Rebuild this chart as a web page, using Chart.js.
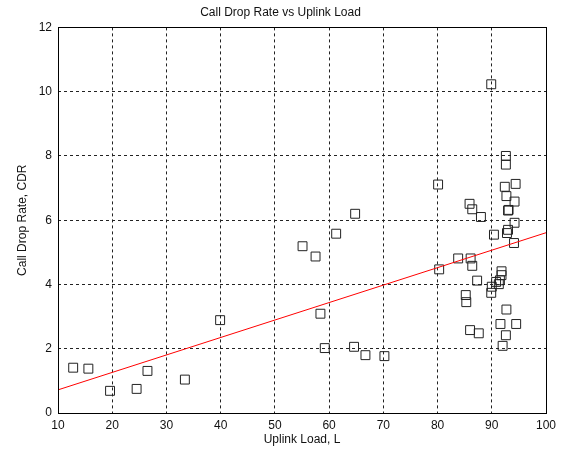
<!DOCTYPE html>
<html>
<head>
<meta charset="utf-8">
<script src="https://cdn.jsdelivr.net/npm/chart.js@4.4.1/dist/chart.umd.min.js"></script>
<style>
  html, body { margin: 0; padding: 0; background: #fff; }
  #wrap { width: 562px; height: 454px; }
</style>
</head>
<body>
<div id="wrap"><canvas id="cdrChart" width="562" height="454"></canvas></div>
<script>
// uplink load (x) and call drop rate (y) for each cell
const uplinkLoad = [
  12.8, 15.6, 19.6, 24.5, 26.5, 33.4, 39.9, 55.1, 57.5, 58.4,
  59.2, 61.3, 64.6, 64.8, 66.7, 70.2, 80.1, 80.3, 83.8, 85.2,
  85.3, 85.9, 86.0, 86.1, 86.4, 86.4, 87.3, 87.6, 88.0, 89.9,
  89.9, 90.0, 90.4, 90.8, 91.3, 91.5, 91.6, 91.8, 91.8, 92.0,
  92.4, 92.6, 92.6, 92.6, 92.7, 92.7, 92.8, 93.0, 93.1, 93.0,
  94.1, 94.2, 94.2, 94.4, 94.5
];
const callDropRate = [
  1.41, 1.38, 0.69, 0.75, 1.31, 1.04, 2.89, 5.19, 4.87, 3.09,
  2.02, 5.58, 2.06, 6.20, 1.80, 1.77, 7.11, 4.47, 4.81, 3.67,
  3.45, 6.51, 2.58, 4.81, 6.34, 4.58, 4.12, 2.48, 6.10, 10.23,
  3.74, 3.93, 5.55, 4.08, 4.01, 4.13, 2.77, 4.29, 4.41, 2.09,
  7.04, 8.00, 7.73, 2.42, 6.75, 3.22, 5.60, 6.30, 6.32, 5.70,
  5.29, 6.58, 5.92, 7.13, 2.77
];
// linear fit end points
const fitX = [10, 100];
const fitY = [0.72, 5.61];

const xTicks = [10, 20, 30, 40, 50, 60, 70, 80, 90, 100];
const yTicks = [0, 2, 4, 6, 8, 10, 12];

const fontFamily = '"Liberation Sans", Arial, Helvetica, sans-serif';

// solid box around the plot area, like the matlab axes
const framePlugin = {
  id: 'frame',
  afterDatasetsDraw(chart) {
    const { ctx, chartArea } = chart;
    ctx.save();
    ctx.strokeStyle = '#000';
    ctx.lineWidth = 1;
    ctx.setLineDash([]);
    ctx.strokeRect(Math.round(chartArea.left) + 0.5, Math.round(chartArea.top) + 0.5,
      Math.round(chartArea.right - chartArea.left), Math.round(chartArea.bottom - chartArea.top));
    ctx.restore();
  }
};

const points = uplinkLoad.map((x, i) => ({ x, y: callDropRate[i] }));
const fitLine = fitX.map((x, i) => ({ x, y: fitY[i] }));

new Chart(document.getElementById('cdrChart'), {
  type: 'scatter',
  data: {
    datasets: [
      {
        label: 'CDR',
        data: points,
        pointStyle: 'rect',
        pointRadius: 6.3,
        pointBorderWidth: 1,
        pointBorderColor: '#222',
        pointBackgroundColor: 'rgba(0,0,0,0)',
        order: 2
      },
      {
        label: 'Fit',
        type: 'line',
        data: fitLine,
        borderColor: '#ff0000',
        borderWidth: 1,
        pointRadius: 0,
        fill: false,
        order: 1
      }
    ]
  },
  plugins: [framePlugin],
  options: {
    responsive: false,
    animation: false,
    layout: { padding: { left: 15, right: 16, top: 0, bottom: 7 } },
    plugins: {
      legend: { display: false },
      tooltip: { enabled: false },
      title: {
        display: true,
        text: 'Call Drop Rate vs Uplink Load',
        color: '#111',
        font: { family: fontFamily, size: 12, weight: 'normal' },
        padding: { top: 5, bottom: 8 }
      }
    },
    scales: {
      x: {
        type: 'linear',
        min: 10,
        max: 100,
        afterBuildTicks: scale => { scale.ticks = xTicks.map(v => ({ value: v })); },
        afterFit: scale => { scale.height = 34; },
        ticks: { color: '#111', padding: 5, font: { family: fontFamily, size: 12 } },
        grid: { color: '#222', lineWidth: 1, drawTicks: false },
        border: { display: false, dash: [3, 3] },
        title: {
          display: true,
          text: 'Uplink Load, L',
          color: '#111',
          padding: 0,
          font: { family: fontFamily, size: 12 }
        }
      },
      y: {
        type: 'linear',
        min: 0,
        max: 12,
        afterBuildTicks: scale => { scale.ticks = yTicks.map(v => ({ value: v })); },
        afterFit: scale => { scale.width = 43; },
        ticks: { color: '#111', padding: 6, font: { family: fontFamily, size: 12 } },
        grid: { color: '#222', lineWidth: 1, drawTicks: false },
        border: { display: false, dash: [3, 3] },
        title: {
          display: true,
          text: 'Call Drop Rate, CDR',
          color: '#111',
          padding: 0,
          font: { family: fontFamily, size: 12 }
        }
      }
    }
  }
});
</script>
</body>
</html>
